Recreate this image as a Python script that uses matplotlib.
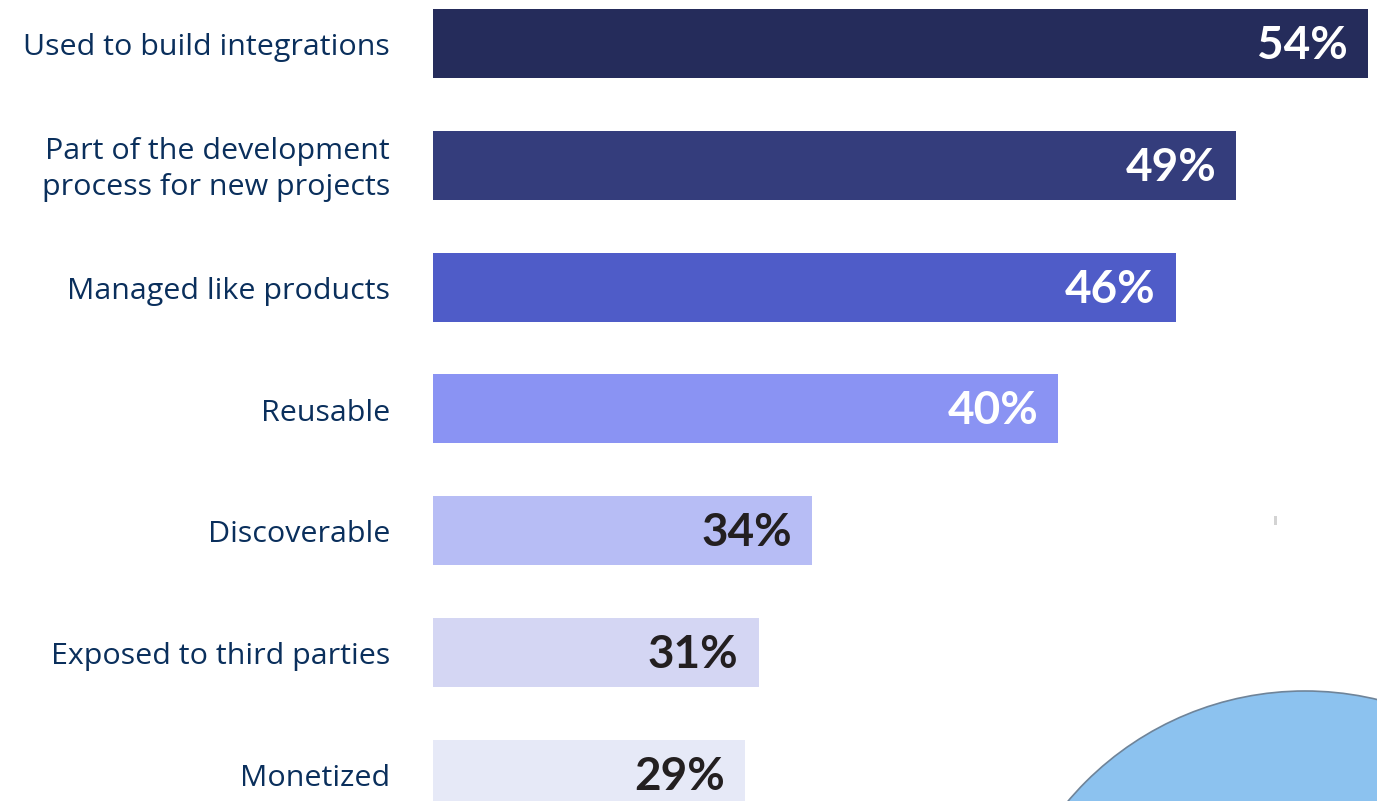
import matplotlib
matplotlib.use("Agg")
import matplotlib.pyplot as plt
from matplotlib.patches import Circle, Rectangle

# Data
categories = [
    "Used to build integrations",
    "Part of the development\nprocess for new projects",
    "Managed like products",
    "Reusable",
    "Discoverable",
    "Exposed to third parties",
    "Monetized",
]
values = [54, 49, 46, 40, 34, 31, 29]
# drawn bar lengths as they appear in the picture (same units, 54 = top bar)
bar_length = [54.0, 46.4, 42.9, 36.1, 21.9, 18.8, 18.0]

bar_colors = ["#252C5B", "#343D7C", "#4F5CC8", "#8A93F3", "#B7BDF5", "#D4D6F3", "#E6E9F7"]
value_colors = ["white", "white", "white", "white", "#231F20", "#231F20", "#231F20"]

W, H = 1377, 801
fig = plt.figure(figsize=(W / 100, H / 100), dpi=100)

# decoration layer in pixel coordinates
bg = fig.add_axes([0, 0, 1, 1])
bg.set_xlim(0, W)
bg.set_ylim(H, 0)
bg.axis("off")
bg.add_patch(Circle((1305, 1001), 310, facecolor="#8CC2EF", edgecolor="#6F8499", lw=1.2))
bg.add_patch(Rectangle((1274, 516), 2.5, 9, facecolor="#D3D3D3", edgecolor="none"))

# bar chart axes: starts at x=433 px
px_per_unit = 935 / 54
left = 433
ax = fig.add_axes([left / W, 0, (W - left) / W, 1])
ax.patch.set_alpha(0)
pitch = 121.8
y0 = 43.5
ax.set_xlim(0, (W - left) / px_per_unit)
ax.set_ylim((H - y0) / pitch, -y0 / pitch)

pos = list(range(len(categories)))
ax.barh(pos, bar_length, height=69 / pitch, color=bar_colors, left=0)

for i in pos:
    ax.text(bar_length[i] - 20 / px_per_unit, i + 0.02, f"{values[i]}%",
            ha="right", va="center", fontsize=33, fontweight="bold",
            family="Lato", color=value_colors[i])
    # category label, right aligned at x=390 px
    ax.text(-43 / px_per_unit, i + 0.035, categories[i], ha="right", va="center",
            fontsize=21.9, family="Open Sans", color="#0A2F5C",
            linespacing=1.3, clip_on=False)

ax.set_xticks([])
ax.set_yticks([])
for s in ax.spines.values():
    s.set_visible(False)

fig.savefig("out.png", dpi=100)
